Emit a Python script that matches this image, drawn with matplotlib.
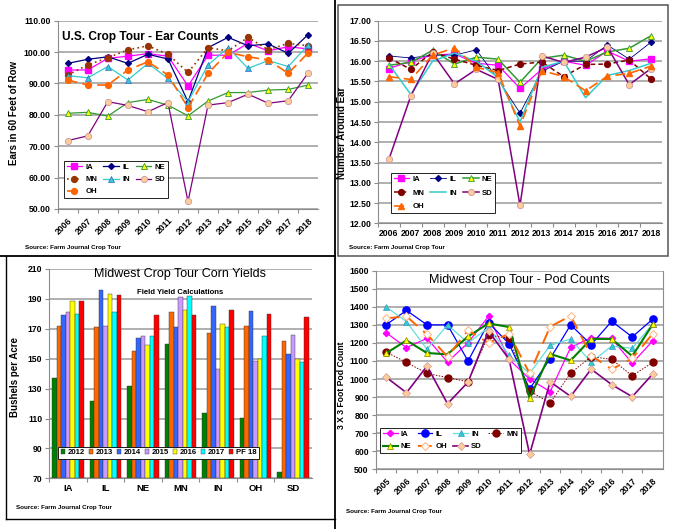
import matplotlib
matplotlib.use("Agg")
import matplotlib.pyplot as plt
from matplotlib.lines import Line2D
from matplotlib.patches import Rectangle
import numpy as np

plt.rcParams['font.family'] = ['Liberation Sans', 'DejaVu Sans']

W, H = 676, 529

# ---------------- Data ----------------
ear_years = [str(y) for y in range(2006, 2019)]
ear_IA = [94.3, 94.3, 98.0, 98.7, 99.5, 98.7, 89.2, 99.0, 99.0, 102.8, 100.4, 101.7, 101.0]
ear_IL = [96.4, 97.7, 98.5, 96.4, 99.3, 97.8, 84.2, 101.4, 104.7, 102.0, 102.6, 99.6, 105.6]
ear_NE = [80.5, 80.8, 79.6, 83.9, 84.9, 83.1, 79.7, 84.4, 87.1, 87.1, 87.9, 88.1, 89.5]
ear_MN = [92.7, 95.9, 98.2, 100.7, 102.0, 99.3, 93.5, 101.4, 100.4, 104.7, 100.7, 102.8, 102.0]
ear_IN = [92.5, 91.8, 95.4, 91.1, 96.4, 91.6, 84.2, 95.9, 101.4, 94.8, 97.3, 95.4, 102.3]
ear_SD = [71.8, 73.3, 84.2, 83.0, 81.0, 83.9, 52.4, 83.1, 83.9, 86.6, 83.7, 84.5, 93.4]
ear_OH = [91.1, 89.5, 89.5, 94.3, 96.9, 92.7, 82.3, 93.2, 99.9, 98.5, 97.5, 93.2, 99.8]

row_years = [str(y) for y in range(2006, 2019)]
row_IA = [15.82, 16.00, 16.15, 16.18, 15.95, 15.90, 15.33, 15.80, 16.00, 15.90, 16.25, 16.00, 16.06]
row_IL = [16.13, 16.08, 16.15, 16.15, 16.28, 15.55, 14.72, 15.75, 16.00, 16.00, 16.40, 16.05, 16.47]
row_NE = [15.90, 15.97, 16.27, 15.93, 16.10, 16.05, 15.48, 16.07, 16.15, 16.00, 16.23, 16.32, 16.63]
row_MN = [16.08, 15.80, 16.22, 16.05, 15.90, 15.77, 15.93, 15.98, 15.62, 15.92, 15.93, 16.03, 15.56]
row_IN = [15.93, 15.18, 16.00, 16.20, 16.00, 15.60, 14.50, 15.85, 16.00, 15.10, 15.65, 15.77, 15.95]
row_SD = [13.58, 15.14, 16.20, 15.44, 15.80, 15.55, 12.44, 16.13, 15.97, 16.10, 16.35, 15.42, 15.82]
row_OH = [15.62, 15.55, 16.15, 16.33, 15.85, 15.72, 14.40, 15.77, 15.62, 15.27, 15.63, 15.70, 15.88]

yield_states = ['IA', 'IL', 'NE', 'MN', 'IN', 'OH', 'SD']
yield_series = ['2012', '2013', '2014', '2015', '2016', '2017', 'PF 18']
y2012 = [137, 122, 132, 159.5, 113.5, 110.5, 74.5]
y2013 = [172, 171, 155, 181.5, 167.5, 172, 162]
y2014 = [179, 196, 164, 171, 185, 182, 153]
y2015 = [181, 172, 165.5, 191, 143, 148.5, 166]
y2016 = [188.5, 193.5, 159, 182.5, 173.5, 149.5, 150]
y2017 = [180, 181, 165.5, 192, 171.5, 165, 148]
yPF18 = [188.5, 192.5, 179.5, 179, 182.5, 180, 178]

pod_years = [str(y) for y in range(2005, 2019)]
pod_IA = [1257, 1174, 1225, 1094, 1201, 1348, 1109, 1000, 930, 1175, 1229, 1225, 1087, 1212]
pod_IL = [1300, 1380, 1300, 1300, 1100, 1312, 1195, 945, 1113, 1300, 1190, 1320, 1233, 1332]
pod_IN = [1400, 1318, 1165, 1300, 1200, 1285, 1133, 1031, 1186, 1222, 1092, 1183, 1170, 1305]
pod_MN = [1150, 1092, 1031, 1008, 985, 1244, 1225, 934, 867, 1033, 1124, 1109, 1018, 1092]
pod_NE = [1142, 1214, 1144, 1137, 1236, 1308, 1288, 893, 1139, 1103, 1222, 1222, 1127, 1303]
pod_OH = [1336, 1347, 1247, 1124, 1270, 1200, 1251, 1031, 1290, 1350, 1130, 1054, 1114, 1251]
pod_SD = [1011, 924, 1072, 863, 983, 1266, 1109, 583, 985, 904, 1055, 969, 902, 1028]

# ---------------- Helpers ----------------
fig = plt.figure(figsize=(W / 100, H / 100), dpi=100)
fig.patch.set_facecolor('white')


def ax_px(l, t, r, b):
    return fig.add_axes([l / W, 1 - b / H, (r - l) / W, (b - t) / H])


def fx(x):
    return x / W


def fy(y):
    return 1 - y / H


GRID = '#9a9a9a'
SPINE = '#8c8c8c'


def style_axes(ax, n, ylim, ystep, fmt):
    ax.set_xlim(-0.5, n - 0.5)
    ax.set_ylim(*ylim)
    yt = np.arange(ylim[0], ylim[1] + ystep / 2, ystep)
    ax.set_yticks(yt)
    ax.set_yticklabels([fmt.format(v) for v in yt], fontsize=6.2, fontweight='bold')
    ax.yaxis.grid(True, color=GRID, linewidth=1.1)
    ax.set_axisbelow(True)
    for s in ['top', 'right']:
        ax.spines[s].set_visible(False)
    ax.spines['left'].set_color(SPINE)
    ax.spines['bottom'].set_color(SPINE)
    ax.tick_params(axis='y', length=3, color=SPINE, pad=2)
    ax.set_xticks(np.arange(n) - 0.5, minor=False)
    ax.set_xticklabels([])
    ax.tick_params(axis='x', which='major', length=3, color=SPINE)
    ax.set_xticks(np.arange(n), minor=True)
    ax.tick_params(axis='x', which='minor', length=0)


def leg(ax, handles, labels, ncol, bbox, fs=5.6, **kw):
    opts = dict(borderpad=0.35, labelspacing=0.35, columnspacing=0.8, handletextpad=0.4)
    opts.update(kw)
    lg = ax.legend(handles, labels, ncol=ncol, loc='lower left', bbox_to_anchor=bbox,
                   prop={'size': fs, 'weight': 'bold'}, frameon=True, fancybox=False,
                   edgecolor='black', framealpha=1, **opts)
    lg.get_frame().set_linewidth(0.6)
    return lg


# ---------------- Panel 1: Ear counts ----------------
ax1 = ax_px(57.7, 20.7, 318.3, 209)
n1 = len(ear_years)
x1 = np.arange(n1)
style_axes(ax1, n1, (50, 110), 10, '{:.2f}')
ax1.set_xticklabels(ear_years, minor=True, rotation=45, ha='right', va='top',
                    rotation_mode='anchor', fontsize=6.2, fontweight='bold')
ax1.tick_params(axis='x', which='minor', pad=5)
h_IA, = ax1.plot(x1, ear_IA, color='#FF00FF', lw=0.9, marker='s', ms=4.2, mfc='#FF00FF', mec='#FF00FF')
h_IL, = ax1.plot(x1, ear_IL, color='#000080', lw=0.9, marker='D', ms=3, mfc='#000080', mec='#000080')
h_NE, = ax1.plot(x1, ear_NE, color='#339933', lw=0.9, marker='^', ms=4.2, mfc='#FFFF00', mec='#339933', mew=0.6)
h_MN, = ax1.plot(x1, ear_MN, color='#993300', lw=1.2, ls=(0, (1, 2)), marker='o', ms=4.2, mfc='#993300', mec='#993300')
h_IN, = ax1.plot(x1, ear_IN, color='#33CCCC', lw=0.9, marker='^', ms=4.2, mfc='#33CCCC', mec='#3366CC', mew=0.5)
h_SD, = ax1.plot(x1, ear_SD, color='#800080', lw=0.9, marker='o', ms=4.5, mfc='#FFCC99', mec='#CC9999', mew=0.6)
h_OH, = ax1.plot(x1, ear_OH, color='#FF6600', lw=1.2, ls=(0, (6, 3)), marker='o', ms=4.2, mfc='#FF6600', mec='#FF6600')
ax1.text(0.015, 0.915, 'U.S. Crop Tour - Ear Counts', transform=ax1.transAxes,
         fontsize=8.6, fontweight='bold', ha='left', va='center')
leg(ax1, [h_IA, h_MN, h_OH, h_IL, h_IN, h_NE, h_SD],
    ['IA', 'MN', 'OH', 'IL', 'IN', 'NE', 'SD'], 3, (0.009, 0.037), handlelength=2.0,
    labelspacing=0.6)

# ---------------- Panel 2: Kernel rows ----------------
ax2 = ax_px(378, 20.7, 662, 223.3)
n2 = len(row_years)
x2 = np.arange(n2)
style_axes(ax2, n2, (12, 17), 0.5, '{:.2f}')
ax2.set_xticklabels(row_years, minor=True, fontsize=6.2, fontweight='bold')
ax2.tick_params(axis='x', which='minor', pad=4)
g_IA, = ax2.plot(x2, row_IA, color='#FF00FF', lw=0.9, marker='s', ms=4.2, mfc='#FF00FF', mec='#FF00FF')
g_IL, = ax2.plot(x2, row_IL, color='#000080', lw=0.6, marker='D', ms=3, mfc='#000080', mec='#000080')
g_NE, = ax2.plot(x2, row_NE, color='#339933', lw=1.1, marker='^', ms=4.2, mfc='#FFFF00', mec='#339933', mew=0.6)
g_MN, = ax2.plot(x2, row_MN, color='#800000', lw=1.1, ls=(0, (3, 2)), marker='o', ms=4.2, mfc='#800000', mec='#800000')
g_IN, = ax2.plot(x2, row_IN, color='#33CCCC', lw=1.1)
g_SD, = ax2.plot(x2, row_SD, color='#800080', lw=1.1, marker='o', ms=4.5, mfc='#FFCC99', mec='#CC9999', mew=0.6)
g_OH, = ax2.plot(x2, row_OH, color='#FF6600', lw=1.2, ls=(0, (6, 3)), marker='^', ms=4.2, mfc='#FF6600', mec='#FF6600')
ax2.text(0.5, 0.954, 'U.S. Crop Tour- Corn Kernel Rows', transform=ax2.transAxes,
         fontsize=9, ha='center', va='center')
leg(ax2, [g_IA, g_MN, g_OH, g_IL, g_IN, g_NE, g_SD],
    ['IA', 'MN', 'OH', 'IL', 'IN', 'NE', 'SD'], 3, (0.032, 0.031), handlelength=2.0,
    labelspacing=0.8)

# ---------------- Panel 3: Yields ----------------
ax3 = ax_px(49.3, 269, 311.7, 478.3)
n3 = len(yield_states)
x3 = np.arange(n3)
style_axes(ax3, n3, (70, 210), 20, '{:.0f}')
ax3.set_xticklabels(yield_states, minor=True, fontsize=6.8, fontweight='bold')
ax3.tick_params(axis='x', which='minor', pad=4)
bar_colors = ['#008000', '#FF6600', '#3366FF', '#CC99FF', '#FFFF00', '#00FFFF', '#FF0000']
series = [y2012, y2013, y2014, y2015, y2016, y2017, yPF18]
bw = 0.121
bars = []
for i, (vals, c) in enumerate(zip(series, bar_colors)):
    off = (i - 3) * bw
    b = ax3.bar(x3 + off, np.array(vals) - 70, bottom=70, width=bw, color=c,
                edgecolor='#333333', linewidth=0.3, zorder=2)
    bars.append(b)
ax3.text(0.5, 0.975, 'Midwest Crop Tour Corn Yields', transform=ax3.transAxes,
         fontsize=9, ha='center', va='center')
ax3.text(0.5, 0.89, 'Field Yield Calculations', transform=ax3.transAxes,
         fontsize=5.6, fontweight='bold', ha='center', va='center')
lg3 = leg(ax3, bars, yield_series, 7, (0.018, 0.073), fs=5.6,
          handlelength=0.55, handleheight=0.55, columnspacing=0.55, handletextpad=0.3)
lg3.set_zorder(5)

# ---------------- Panel 4: Pod counts ----------------
ax4 = ax_px(375.7, 270.7, 663, 469.3)
n4 = len(pod_years)
x4 = np.arange(n4)
style_axes(ax4, n4, (500, 1600), 100, '{:.0f}')
ax4.spines['right'].set_visible(True)
ax4.spines['right'].set_color(SPINE)
ax4.set_xticklabels(pod_years, minor=True, rotation=45, ha='right', va='top',
                    rotation_mode='anchor', fontsize=6.2, fontweight='bold')
ax4.tick_params(axis='x', which='minor', pad=5)
p_IA, = ax4.plot(x4, pod_IA, color='#FF00FF', lw=0.9, marker='D', ms=3.2, mfc='#FF00FF', mec='#FF00FF')
p_IL, = ax4.plot(x4, pod_IL, color='#0000FF', lw=0.9, marker='o', ms=5.2, mfc='#0000FF', mec='#0000FF')
p_IN, = ax4.plot(x4, pod_IN, color='#66DDDD', lw=0.9, marker='^', ms=4.5, mfc='#33CCCC', mec='#3399CC', mew=0.5)
p_MN, = ax4.plot(x4, pod_MN, color='#800000', lw=0.7, ls=(0, (1.5, 1.5)), marker='o', ms=5, mfc='#800000', mec='#800000')
p_NE, = ax4.plot(x4, pod_NE, color='#008000', lw=1.5, marker='^', ms=4.2, mfc='#FFFF00', mec='#808000', mew=0.5)
p_OH, = ax4.plot(x4, pod_OH, color='#FF6600', lw=1.4, ls=(0, (7, 4)), marker='D', ms=4,
                 mfc='white', mec='#FFB380', mew=0.7)
p_SD, = ax4.plot(x4, pod_SD, color='#800080', lw=1.2, marker='D', ms=4, mfc='#FFCC99', mec='#CC9999', mew=0.5)
ax4.text(0.5, 0.953, 'Midwest Crop Tour - Pod Counts', transform=ax4.transAxes,
         fontsize=9, ha='center', va='center')
leg(ax4, [p_IA, p_NE, p_IL, p_OH, p_IN, p_SD, p_MN],
    ['IA', 'NE', 'IL', 'OH', 'IN', 'SD', 'MN'], 4, (0.002, 0.062), handlelength=1.9,
    columnspacing=0.8, labelspacing=0.65)

# ---------------- Axis titles & sources ----------------
fig.text(fx(14), fy(113), 'Ears in 60 Feet of Row', rotation=90, ha='center', va='center',
         fontsize=7, fontweight='bold')
fig.text(fx(342), fy(133), 'Number Around Ear', rotation=90, ha='center', va='center',
         fontsize=7, fontweight='bold')
fig.text(fx(15), fy(377), 'Bushels per Acre', rotation=90, ha='center', va='center',
         fontsize=7, fontweight='bold')
fig.text(fx(341), fy(385), '3 X 3 Foot Pod Count', rotation=90, ha='center', va='center',
         fontsize=6.2, fontweight='bold')

src = 'Source: Farm Journal Crop Tour'
fig.text(fx(25), fy(247), src, fontsize=4.5, fontweight='bold', va='center')
fig.text(fx(349), fy(247), src, fontsize=4.5, fontweight='bold', va='center')
fig.text(fx(16), fy(507), src, fontsize=4.5, fontweight='bold', va='center')
fig.text(fx(346), fy(512), src, fontsize=4.5, fontweight='bold', va='center')


# ---------------- Panel borders ----------------
def fline(x0, y0, x1, y1, color='black', lw=1.3):
    fig.add_artist(Line2D([fx(x0), fx(x1)], [fy(y0), fy(y1)], color=color, lw=lw,
                          transform=fig.transFigure))


fline(335, 0, 335, 529)
fline(0, 256, 335, 256)
fline(6, 256, 6, 519, lw=1.0)
fline(6, 519, 335, 519, lw=1.0)
fig.add_artist(Rectangle((fx(337.5), fy(256)), fx(668) - fx(337.5), fy(5) - fy(256),
                         transform=fig.transFigure, fill=False, edgecolor='#555555', lw=1.1))

fig.savefig('out.png', dpi=100, facecolor='white')
